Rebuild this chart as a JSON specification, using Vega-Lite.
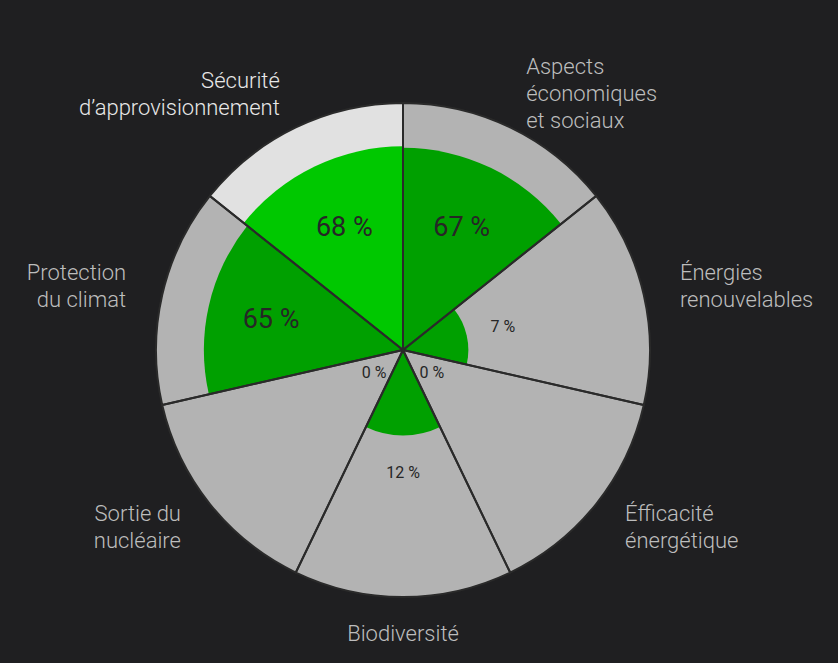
{
  "$schema": "https://vega.github.io/schema/vega-lite/v6.json",
  "width": 806,
  "height": 626,
  "autosize": {"type": "none"},
  "padding": {"left": 0, "top": 37, "right": 32, "bottom": 0},
  "background": "#1f1f21",
  "view": {"stroke": null},
  "config": {"font": "Roboto"},
  "data": {
    "values": [
      {"idx": 1, "cat": "Aspects économiques et sociaux", "label": "Aspects\néconomiques\net sociaux", "value": 67},
      {"idx": 2, "cat": "Énergies renouvelables", "label": "Énergies\nrenouvelables", "value": 7},
      {"idx": 3, "cat": "Éfficacité énergétique", "label": "Éfficacité\nénergétique", "value": 0},
      {"idx": 4, "cat": "Biodiversité", "label": "Biodiversité", "value": 12},
      {"idx": 5, "cat": "Sortie du nucléaire", "label": "Sortie du\nnucléaire", "value": 0},
      {"idx": 6, "cat": "Protection du climat", "label": "Protection\ndu climat", "value": 65},
      {"idx": 7, "cat": "Sécurité d’approvisionnement", "label": "Sécurité\nd’approvisionnement", "value": 68}
    ]
  },
  "transform": [
    {"calculate": "datum.value + ' %'", "as": "pct"},
    {"calculate": "datum.idx - 1", "as": "t0"},
    {"calculate": "datum.idx - 0.5", "as": "tm"}
  ],
  "layer": [
    {
      "mark": {"type": "arc"},
      "encoding": {
        "theta": {"field": "t0", "type": "quantitative", "scale": {"domain": [0, 7], "range": [0, 6.283185307179586]}},
        "theta2": {"field": "idx"},
        "radius": {"datum": 100, "type": "quantitative", "scale": {"type": "sqrt", "domain": [0, 100], "range": [0, 247]}},
        "color": {"condition": {"test": "datum.idx === 7", "value": "#e1e1e1"}, "value": "#b3b3b3"}
      }
    },
    {
      "mark": {"type": "arc"},
      "encoding": {
        "theta": {"field": "t0", "type": "quantitative"},
        "theta2": {"field": "idx"},
        "radius": {"field": "value", "type": "quantitative"},
        "color": {"condition": {"test": "datum.idx === 7", "value": "#00c800"}, "value": "#00a000"}
      }
    },
    {
      "mark": {"type": "arc", "fillOpacity": 0, "stroke": "#2a2a2a", "strokeWidth": 2},
      "encoding": {
        "theta": {"field": "t0", "type": "quantitative"},
        "theta2": {"field": "idx"},
        "radius": {"datum": 100, "type": "quantitative"}
      }
    },
    {
      "transform": [{"filter": "datum.value >= 50"}],
      "mark": {"type": "text", "fontSize": 27, "color": "#262626", "align": "center", "baseline": "middle"},
      "encoding": {
        "theta": {"field": "tm", "type": "quantitative"},
        "radius": {"datum": 30, "type": "quantitative"},
        "text": {"field": "pct"}
      }
    },
    {
      "transform": [{"filter": "datum.value < 50"}],
      "mark": {"type": "text", "fontSize": 16, "color": "#262626", "align": "center", "baseline": "middle", "radiusOffset": 37},
      "encoding": {
        "theta": {"field": "tm", "type": "quantitative"},
        "radius": {"field": "value", "type": "quantitative"},
        "text": {"field": "pct"}
      }
    },
    {
      "transform": [{"filter": "datum.idx === 1"}],
      "mark": {"type": "text", "fontSize": 22, "fontWeight": 300, "lineHeight": 27, "lineBreak": "\n", "align": "left", "baseline": "middle", "radiusOffset": 37, "dy": -27},
      "encoding": {
        "theta": {"field": "tm", "type": "quantitative"},
        "radius": {"datum": 100, "type": "quantitative"},
        "text": {"field": "label"},
        "color": {"value": "#bdbdbd"}
      }
    },
    {
      "transform": [{"filter": "datum.idx === 2 || datum.idx === 3"}],
      "mark": {"type": "text", "fontSize": 22, "fontWeight": 300, "lineHeight": 27, "lineBreak": "\n", "align": "left", "baseline": "middle", "radiusOffset": 37, "dy": -13.5},
      "encoding": {
        "theta": {"field": "tm", "type": "quantitative"},
        "radius": {"datum": 100, "type": "quantitative"},
        "text": {"field": "label"},
        "color": {"value": "#bdbdbd"}
      }
    },
    {
      "transform": [{"filter": "datum.idx === 4"}],
      "mark": {"type": "text", "fontSize": 22, "fontWeight": 300, "lineHeight": 27, "align": "center", "baseline": "middle", "radiusOffset": 37},
      "encoding": {
        "theta": {"field": "tm", "type": "quantitative"},
        "radius": {"datum": 100, "type": "quantitative"},
        "text": {"field": "label"},
        "color": {"value": "#bdbdbd"}
      }
    },
    {
      "transform": [{"filter": "datum.idx >= 5"}],
      "mark": {"type": "text", "fontSize": 22, "fontWeight": 300, "lineHeight": 27, "lineBreak": "\n", "align": "right", "baseline": "middle", "radiusOffset": 37, "dy": -13.5},
      "encoding": {
        "theta": {"field": "tm", "type": "quantitative"},
        "radius": {"datum": 100, "type": "quantitative"},
        "text": {"field": "label"},
        "color": {"condition": {"test": "datum.idx === 7", "value": "#e8e8e8"}, "value": "#bdbdbd"}
      }
    }
  ]
}
